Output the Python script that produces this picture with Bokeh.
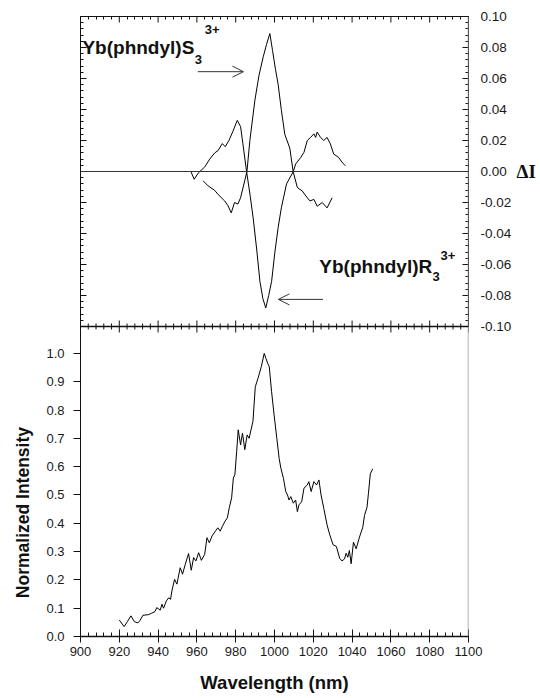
import math
from bokeh.plotting import figure
from bokeh.models import (LinearAxis, Range1d, FixedTicker, SingleIntervalTicker,
                          NumeralTickFormatter, Label, Arrow, OpenHead, Span)
from bokeh.embed import file_html
from bokeh.resources import INLINE

# ---------------- data ----------------
# top panel: circularly polarized luminescence (Delta I)
wl_S = [963.2, 965.8, 969.2, 970.9, 974.3, 976.0, 977.7, 979.4, 981.1, 982.5,
        985.8, 987.3, 989.9, 992.0, 994.2, 995.9, 997.6, 999.0, 1000.5, 1001.9,
        1003.5, 1005.3, 1007.9, 1009.6, 1011.8, 1014.3, 1016.9, 1018.3, 1020.3,
        1022.0, 1024.6, 1027.1, 1029.7]
dI_S = [-0.006, -0.0093, -0.0122, -0.0148, -0.019, -0.022, -0.0267, -0.020, -0.021, -0.017,
        0.000, 0.020, 0.046, 0.062, 0.074, 0.082, 0.089, 0.078, 0.066, 0.056,
        0.040, 0.024, 0.015, 0.000, -0.0104, -0.0126, -0.017, -0.019, -0.018,
        -0.0224, -0.020, -0.0235, -0.017]

wl_R = [956.9, 958.6, 960.7, 964.1, 966.6, 969.2, 970.9, 973.1, 974.6, 976.5,
        978.6, 980.8, 982.5, 983.7, 985.6, 987.5, 989.0, 990.8, 992.5, 994.0,
        995.5, 997.0, 998.5, 1000.2, 1001.9, 1003.6, 1006.2, 1009.7, 1010.9, 1013.5,
        1015.2, 1016.9, 1018.6, 1020.3, 1021.2, 1022.0, 1023.7, 1025.4, 1027.1, 1028.8,
        1030.5, 1033.1, 1034.8, 1036.5]
dI_R = [0.000, -0.005, -0.001, 0.003, 0.008, 0.012, 0.0135, 0.018, 0.016, 0.020,
        0.026, 0.033, 0.029, 0.018, 0.000, -0.016, -0.030, -0.050, -0.071, -0.082,
        -0.088, -0.080, -0.071, -0.052, -0.036, -0.023, -0.008, 0.000, 0.0048, 0.009,
        0.0124, 0.020, 0.022, 0.0243, 0.022, 0.0254, 0.022, 0.020, 0.022, 0.0178,
        0.0113, 0.009, 0.006, 0.0037]

# bottom panel: normalized emission intensity
wl_em = [920.0, 922.5, 924.2, 926.0, 927.8, 929.6, 930.6, 932.2, 934.9, 936.6,
         938.4, 939.3, 941.1, 942.0, 942.8, 944.3, 945.5, 946.4, 947.2, 948.5,
         949.7, 951.4, 952.6, 954.0, 955.7, 957.1, 958.3, 959.5, 960.9, 962.3,
         964.0, 965.2, 966.4, 967.8, 969.5, 970.8, 972.0, 973.2, 974.5, 975.7,
         976.7, 977.9, 978.8, 979.6, 980.5, 981.3, 982.5, 983.5, 984.7, 985.9,
         986.9, 988.9, 990.1, 991.5, 993.2, 994.7, 995.6, 996.5, 997.3, 998.5,
         999.8, 1001.2, 1002.4, 1003.3, 1004.6, 1005.8, 1006.7, 1007.5, 1008.4, 1009.7,
         1010.9, 1011.8, 1012.6, 1014.0, 1015.2, 1016.9, 1017.7, 1018.9, 1020.3, 1021.7,
         1022.9, 1024.0, 1025.4, 1027.1, 1028.5, 1030.2, 1031.9, 1033.6, 1034.8, 1036.1,
         1036.9, 1037.8, 1038.6, 1039.5, 1040.7, 1042.1, 1043.8, 1045.5, 1046.4, 1047.7,
         1048.4, 1049.4, 1050.6]
I_em = [0.058, 0.035, 0.053, 0.073, 0.052, 0.048, 0.056, 0.075, 0.077, 0.082,
        0.088, 0.102, 0.093, 0.114, 0.100, 0.126, 0.137, 0.131, 0.164, 0.202,
        0.185, 0.243, 0.220, 0.255, 0.293, 0.234, 0.279, 0.267, 0.296, 0.269,
        0.290, 0.349, 0.331, 0.355, 0.372, 0.384, 0.372, 0.390, 0.407, 0.419,
        0.455, 0.490, 0.560, 0.572, 0.654, 0.730, 0.677, 0.718, 0.660, 0.712,
        0.700, 0.760, 0.882, 0.912, 0.953, 1.000, 0.982, 0.965, 0.953, 0.865,
        0.782, 0.700, 0.629, 0.594, 0.559, 0.512, 0.500, 0.482, 0.494, 0.471,
        0.482, 0.441, 0.465, 0.476, 0.524, 0.535, 0.547, 0.512, 0.547, 0.535,
        0.553, 0.500, 0.453, 0.394, 0.359, 0.324, 0.318, 0.276, 0.267, 0.274,
        0.294, 0.280, 0.304, 0.257, 0.333, 0.310, 0.351, 0.386, 0.428, 0.457,
        0.504, 0.575, 0.592]

dI_ticks = [-0.10, -0.08, -0.06, -0.04, -0.02, 0.00, 0.02, 0.04, 0.06, 0.08, 0.10]
I_ticks = [0.0, 0.1, 0.2, 0.3, 0.4, 0.5, 0.6, 0.7, 0.8, 0.9, 1.0]
wl_ticks_major = [900, 920, 940, 960, 980, 1000, 1020, 1040, 1060, 1080, 1100]

# ---------------- layout constants ----------------
W, H = 540, 698
LEFT, RIGHT, TOP, BOTTOM = 78, 72, 16, 62
BOT_TOP = 1.095          # top of the intensity panel (divider), intensity units
DI_LO, DI_HI = -0.30, 0.10
SANS = "Liberation Sans"
TICK_FS = "13px"
TICK_COL = "#1a1a1a"
LINE_COL = "#111111"
YTITLE_AT = 0.74         # anchor of the rotated y title on the intensity scale

# minor tick positions (decoration)
dI_minor = [round(-0.10 + 0.004 * i, 4) for i in range(51)]
left_top_minor = [BOT_TOP + (v + 0.10) / 0.20 * BOT_TOP for v in dI_minor if v > -0.099]
wl_minor = [x for x in range(900, 1101, 4) if x % 20 != 0]

p = figure(width=W, height=H, x_range=Range1d(900, 1100), y_range=Range1d(0, 2 * BOT_TOP),
           output_backend="svg", toolbar_location=None,
           x_axis_location=None, y_axis_location=None,
           min_border_left=LEFT, min_border_right=RIGHT,
           min_border_top=TOP, min_border_bottom=BOTTOM)
p.extra_y_ranges = {"dI": Range1d(DI_LO, DI_HI)}
p.outline_line_color = None
p.grid.visible = False

# top frame (inward minor ticks; majors drawn as clipped dashes below)
ax_top = LinearAxis(ticker=FixedTicker(ticks=[], minor_ticks=wl_minor),
                    major_tick_in=0, major_tick_out=0, minor_tick_in=3, minor_tick_out=0,
                    axis_line_color=LINE_COL, minor_tick_line_color=LINE_COL)
p.add_layout(ax_top, "above")

# bottom wavelength axis
ax_b = LinearAxis(ticker=SingleIntervalTicker(interval=20, num_minor_ticks=5),
                  major_tick_in=7, major_tick_out=6, minor_tick_in=4, minor_tick_out=0,
                  axis_line_color=LINE_COL, axis_line_width=1.3,
                  major_tick_line_color=LINE_COL, minor_tick_line_color=LINE_COL,
                  major_label_standoff=4, major_label_text_font=SANS,
                  major_label_text_font_size=TICK_FS, major_label_text_color=TICK_COL,
                  axis_label="Wavelength (nm)", axis_label_text_font=SANS,
                  axis_label_text_font_style="bold", axis_label_text_font_size="18.5px",
                  axis_label_text_color="#111111", axis_label_standoff=13)
p.add_layout(ax_b, "below")

# left axis: intensity labels + inward minor ticks for the upper panel
ax_l = LinearAxis(ticker=FixedTicker(ticks=I_ticks, minor_ticks=left_top_minor),
                  formatter=NumeralTickFormatter(format="0.0"),
                  major_tick_in=0, major_tick_out=7, minor_tick_in=3, minor_tick_out=0,
                  axis_line_color=LINE_COL, major_tick_line_color=LINE_COL,
                  minor_tick_line_color=LINE_COL,
                  major_label_standoff=9, major_label_text_font=SANS,
                  major_label_text_font_size=TICK_FS, major_label_text_color=TICK_COL)
p.add_layout(ax_l, "left")

# outer left "axis" carrying the y title
ax_l2 = LinearAxis(ticker=FixedTicker(ticks=[YTITLE_AT]),
                   major_label_overrides={YTITLE_AT: "Normalized Intensity"},
                   major_label_orientation=math.pi / 2,
                   major_tick_in=0, major_tick_out=0, minor_tick_in=0, minor_tick_out=0,
                   axis_line_color=None, major_label_standoff=20,
                   major_label_text_font=SANS, major_label_text_font_style="bold",
                   major_label_text_font_size="17.5px", major_label_text_color="#111111")
p.add_layout(ax_l2, "left")

# right axis: Delta I (line only over the upper panel)
ax_r = LinearAxis(y_range_name="dI", bounds=(-0.10, 0.10),
                  ticker=FixedTicker(ticks=dI_ticks, minor_ticks=dI_minor),
                  formatter=NumeralTickFormatter(format="0.00"),
                  major_tick_in=6, major_tick_out=0, minor_tick_in=3, minor_tick_out=0,
                  axis_line_color=LINE_COL, major_tick_line_color=LINE_COL,
                  minor_tick_line_color=LINE_COL,
                  major_label_standoff=12, major_label_text_font=SANS,
                  major_label_text_font_size="13.5px", major_label_text_color=TICK_COL)
p.add_layout(ax_r, "right")

# outer right "axis" carrying the Delta I symbol at the 0.00 level
ax_r2 = LinearAxis(y_range_name="dI", ticker=FixedTicker(ticks=[0.0]),
                   major_label_overrides={0: "ΔI"},
                   major_tick_in=0, major_tick_out=0, minor_tick_in=0, minor_tick_out=0,
                   axis_line_color=None, major_label_standoff=2,
                   major_label_text_font="Liberation Serif", major_label_text_font_style="bold",
                   major_label_text_font_size="19px", major_label_text_color="#111111")
p.add_layout(ax_r2, "right")

# grey right edge of the lower panel
p.add_layout(Span(location=1100, dimension="height", line_color="#9a9a9a", line_width=1.5))

# divider between the panels, with crossing ticks
p.add_layout(Span(location=BOT_TOP, dimension="width", line_color=LINE_COL, line_width=1.3))
p.scatter(wl_ticks_major, [BOT_TOP] * len(wl_ticks_major), marker="dash", angle=math.pi / 2,
          size=12, line_color=LINE_COL, line_width=1)
p.scatter(wl_minor, [BOT_TOP] * len(wl_minor), marker="dash", angle=math.pi / 2,
          size=6, line_color=LINE_COL, line_width=1)
# major ticks along the top frame and the left edge of the upper panel
# (half of each dash is clipped by the frame -> inward ticks)
p.scatter(wl_ticks_major, [2 * BOT_TOP] * len(wl_ticks_major), marker="dash",
          angle=math.pi / 2, size=12, line_color=LINE_COL, line_width=1)
p.scatter([900] * len(dI_ticks), dI_ticks, y_range_name="dI", marker="dash",
          size=12, line_color=LINE_COL, line_width=1)

# zero line of the upper panel
p.add_layout(Span(location=0, dimension="width", y_range_name="dI",
                  line_color="#333333", line_width=1))

# data
p.line(wl_S, dI_S, y_range_name="dI", line_color="black", line_width=1)
p.line(wl_R, dI_R, y_range_name="dI", line_color="black", line_width=1)
p.line(wl_em, I_em, line_color="black", line_width=1)

# annotations
lab_kw = dict(text_font=SANS, text_font_style="bold", text_color="#111111",
              text_baseline="alphabetic", y_range_name="dI")
p.add_layout(Label(x=901.0, y=0.0800, text="Yb(phndyl)S", text_font_size="19px", **lab_kw))
p.add_layout(Label(x=958.9, y=0.0722, text="3", text_font_size="13px", **lab_kw))
p.add_layout(Label(x=964.1, y=0.0915, text="3+", text_font_size="13px", **lab_kw))

p.add_layout(Label(x=1023.1, y=-0.0610, text="Yb(phndyl)R", text_font_size="19px", **lab_kw))
p.add_layout(Label(x=1081.5, y=-0.0675, text="3", text_font_size="13px", **lab_kw))
p.add_layout(Label(x=1085.6, y=-0.0540, text="3+", text_font_size="13px", **lab_kw))

p.add_layout(Arrow(x_start=960.5, y_start=0.0644, x_end=984.0, y_end=0.0644,
                   y_range_name="dI", line_color="#333333", line_width=1,
                   end=OpenHead(size=11, line_color="#333333", line_width=1)))
p.add_layout(Arrow(x_start=1025.0, y_start=-0.0825, x_end=1002.0, y_end=-0.0825,
                   y_range_name="dI", line_color="#333333", line_width=1,
                   end=OpenHead(size=11, line_color="#333333", line_width=1)))

open("out.html", "w").write(file_html(p, INLINE))
